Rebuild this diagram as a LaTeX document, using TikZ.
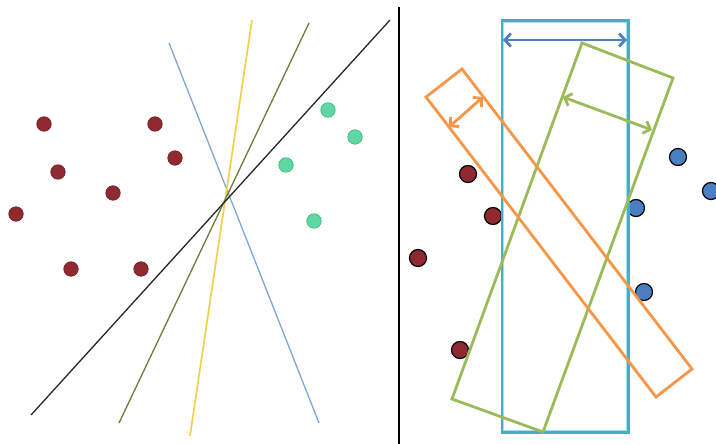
\documentclass[tikz,border=0pt]{standalone}
\usetikzlibrary{arrows.meta}
\definecolor{dotred}{HTML}{8E2A30}
\definecolor{dotredrim}{HTML}{6E1E22}
\definecolor{mint}{HTML}{5ED8A2}
\definecolor{mintrim}{HTML}{3FAF7C}
\definecolor{dotblue}{HTML}{4A7FC2}
\definecolor{teal}{HTML}{4BACC6}
\definecolor{teallight}{HTML}{A9DCEA}
\definecolor{oorange}{HTML}{F79646}
\definecolor{ogreen}{HTML}{9BBB59}
\definecolor{oblue}{HTML}{4F81BD}
\definecolor{lblue}{HTML}{7EA6D6}
\definecolor{lyellow}{HTML}{F2D04E}
\definecolor{lolive}{HTML}{6C7B3C}
\tikzset{
  reddot/.style={circle,inner sep=0pt,minimum size=14.5pt,fill=dotred,draw=dotredrim,line width=0.6pt},
  greendot/.style={circle,inner sep=0pt,minimum size=14.5pt,fill=mint,draw=mintrim,line width=0.6pt},
  rreddot/.style={circle,inner sep=0pt,minimum size=17pt,fill=dotred,draw=black,line width=1.2pt},
  rbluedot/.style={circle,inner sep=0pt,minimum size=17pt,fill=dotblue,draw=black,line width=1.2pt},
  sepline/.style={line width=1.3pt},
  box/.style={line width=2.8pt,line join=miter},
  marg/.style={line width=2.8pt,{Straight Barb[length=6pt,width=13pt]}-{Straight Barb[length=6pt,width=13pt]}}
}
\begin{document}
\begin{tikzpicture}[x=1pt,y=-1pt]
\useasboundingbox (0,0) rectangle (716,444);
% divider
\coordinate (dtop) at (399,7);
\coordinate (dbot) at (399,444);
\draw[line width=1.5pt,black] (dtop) -- (dbot);
% left panel lines
\coordinate (k1) at (31,415); \coordinate (k2) at (390,20);
\coordinate (o1) at (119,423); \coordinate (o2) at (309,23);
\coordinate (y1) at (190,436); \coordinate (y2) at (252,20);
\coordinate (b1) at (169,43); \coordinate (b2) at (319,423);
\draw[sepline,lblue] (b1) -- (b2);
\draw[sepline,lyellow,line width=1.7pt] (y1) -- (y2);
\draw[sepline,lolive] (o1) -- (o2);
\draw[sepline,black!85] (k1) -- (k2);
% left dots
\node[reddot] (r1) at (44,124) {};
\node[reddot] (r2) at (155,124) {};
\node[reddot] (r3) at (175,158) {};
\node[reddot] (r4) at (58,172) {};
\node[reddot] (r5) at (113,193) {};
\node[reddot] (r6) at (16,214) {};
\node[reddot] (r7) at (71,269) {};
\node[reddot] (r8) at (141,269) {};
\node[greendot] (g1) at (328,110) {};
\node[greendot] (g2) at (355,137) {};
\node[greendot] (g3) at (286,165) {};
\node[greendot] (g4) at (314,221) {};
% right dots
\node[rreddot] (rr1) at (468,174) {};
\node[rreddot] (rr2) at (493,216) {};
\node[rreddot] (rr3) at (418,258) {};
\node[rreddot] (rr4) at (460,350) {};
\node[rbluedot] (bb1) at (678,157) {};
\node[rbluedot] (bb2) at (711,191) {};
\node[rbluedot] (bb3) at (636,208) {};
\node[rbluedot] (bb4) at (644,292) {};
% teal rectangle
\coordinate (t1) at (502,21);
\coordinate (t2) at (628,432);
\coordinate (t1i) at (503.3,22.3);
\coordinate (t2i) at (626.7,430.7);
\draw[line width=3pt,teal] (t1) rectangle (t2);
\draw[line width=0.8pt,teallight] (t1i) rectangle (t2i);
% green rectangle
\coordinate (gA) at (582,43);
\coordinate (gB) at (673,78);
\coordinate (gC) at (543,432);
\coordinate (gD) at (452,399);
\draw[box,ogreen] (gA) -- (gB) -- (gC) -- (gD) -- cycle;
% orange rectangle
\coordinate (oA) at (462,69);
\coordinate (oB) at (692,369);
\coordinate (oC) at (656,397);
\coordinate (oD) at (426,97);
\draw[box,oorange] (oA) -- (oB) -- (oC) -- (oD) -- cycle;
% margin arrows
\coordinate (ba1) at (503,40); \coordinate (ba2) at (627,40);
\draw[marg,oblue] (ba1) -- (ba2);
\coordinate (ga1) at (563,97); \coordinate (ga2) at (652,130);
\draw[marg,ogreen] (ga1) -- (ga2);
\coordinate (oa1) at (449,127); \coordinate (oa2) at (483,97);
\draw[marg,oorange] (oa1) -- (oa2);
\end{tikzpicture}
\end{document}
